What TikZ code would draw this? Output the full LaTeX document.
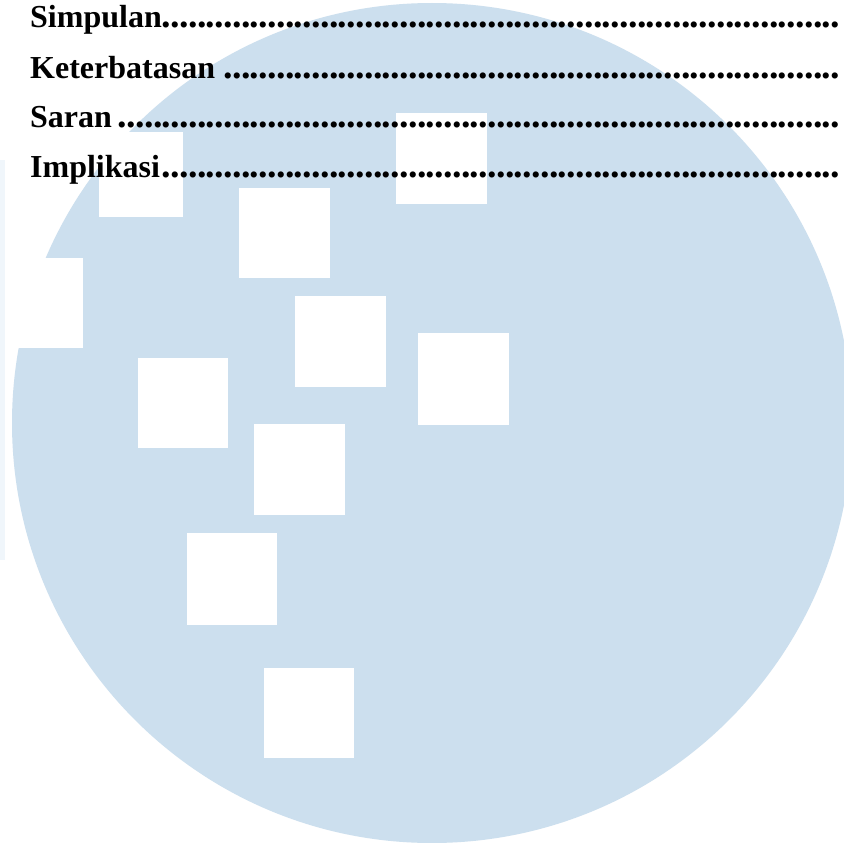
\documentclass[tikz,border=0pt]{standalone}
\usepackage{fontspec}
\setmainfont{Liberation Serif}
\definecolor{circblue}{RGB}{204,223,238}
\definecolor{stripblue}{RGB}{240,246,251}
\newcommand\mydotline[1]{\makebox[813pt][l]{#1\leaders\hbox to 8.8pt{\hss\fontsize{38}{38}\selectfont.\hss}\hfill}}
\begin{document}
\begin{tikzpicture}[x=1pt,y=-1pt,
  sq/.style={fill=white},
  entry/.style={anchor=base west, inner sep=0pt, font=\fontsize{32}{38}\selectfont\bfseries}]
\useasboundingbox (0,0) rectangle (844,843);
\clip (0,0) rectangle (844,843);
\fill[white] (0,0) rectangle (844,843);
\fill[circblue] (432,423) circle[radius=420pt];
\fill[sq] (99,132) rectangle (183,217);
\fill[sq] (239,188) rectangle (330,278);
\fill[sq] (396,113) rectangle (487,204);
\fill[sq] (-5,258) rectangle (83,348);
\fill[sq] (295,296) rectangle (386,387);
\fill[sq] (418,333) rectangle (509,425);
\fill[sq] (138,358) rectangle (228,448);
\fill[sq] (254,424) rectangle (345,515);
\fill[sq] (187,533) rectangle (277,625);
\fill[sq] (264,668) rectangle (354,758);
\fill[stripblue] (0,160) rectangle (5,560);
\node[entry] (simpulan) at (30,28) {\mydotline{Simpulan}};
\node[entry] (keterbatasan) at (30,78) {\mydotline{Keterbatasan }};
\node[entry] (saran) at (30,128) {\mydotline{Saran}};
\node[entry] (implikasi) at (30,177) {\mydotline{Implikasi}};
\end{tikzpicture}
\end{document}
